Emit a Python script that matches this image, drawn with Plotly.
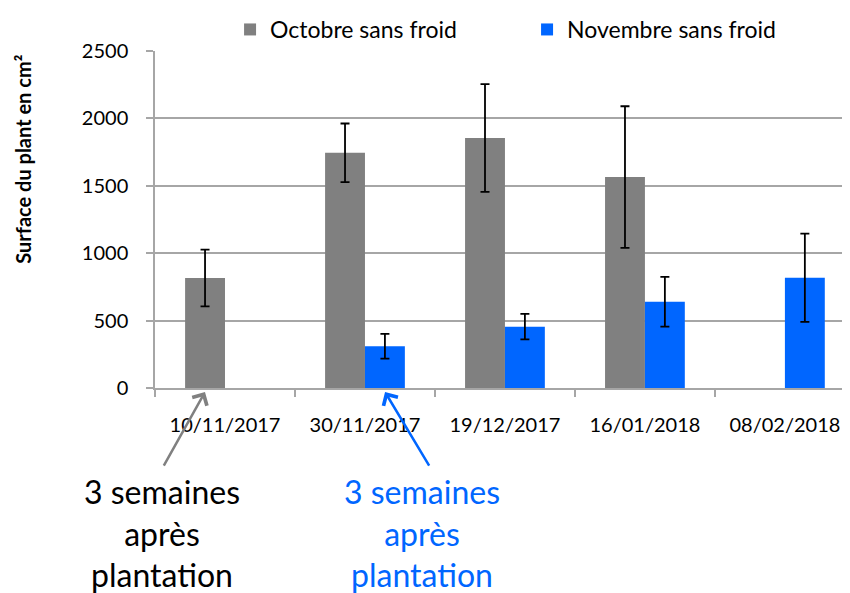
import plotly.graph_objects as go

categories = ["10/11/2017", "30/11/2017", "19/12/2017", "16/01/2018", "08/02/2018"]
octobre = [816, 1745, 1855, 1565, None]
octobre_err = [210, 217, 400, 525, None]
novembre = [None, 310, 455, 640, 818]
novembre_err = [None, 92, 95, 184, 327]
y_ticks = [0, 500, 1000, 1500, 2000, 2500]

GRAY = "#808080"
BLUE = "#0066FF"
GRID = "#A6A6A6"
FONT = "Lato"

fig = go.Figure()
fig.add_trace(go.Bar(
    x=categories, y=octobre, name="Octobre sans froid",
    marker=dict(color=GRAY, line=dict(width=0)),
    error_y=dict(type="data", array=octobre_err, color="black", thickness=1.8, width=4.5),
))
fig.add_trace(go.Bar(
    x=categories, y=novembre, name="Novembre sans froid",
    marker=dict(color=BLUE, line=dict(width=0)),
    error_y=dict(type="data", array=novembre_err, color="black", thickness=1.8, width=4.5),
))

fig.update_layout(
    width=842, height=585,
    margin=dict(l=147, r=0, t=38, b=205),
    paper_bgcolor="white", plot_bgcolor="white",
    barmode="group", bargap=0.43, bargroupgap=0,
    font=dict(family=FONT, color="black", size=20),
    legend=dict(orientation="h", x=0.108, xanchor="left", y=1.0, yanchor="bottom",
                font=dict(size=23, family=FONT), itemwidth=30, traceorder="normal",
                entrywidth=252, entrywidthmode="pixels"),
    xaxis=dict(type="category", range=[-0.5, 4.465], showline=True, linecolor=GRID,
               linewidth=1.5, ticks="outside", tickson="boundaries", ticklen=7,
               tickcolor=GRID, tickwidth=1.5, showgrid=False, ticklabelstandoff=18,
               tickfont=dict(size=20, family=FONT)),
    yaxis=dict(range=[0, 2500], tickvals=y_ticks, showline=True, linecolor=GRID,
               linewidth=1.5, ticks="outside", ticklen=7, tickcolor=GRID, tickwidth=1.5,
               showgrid=True, gridcolor=GRID, gridwidth=1.5, zeroline=False,
               ticklabelstandoff=14, tickfont=dict(size=20, family=FONT)),
)

# y axis title
fig.add_annotation(x=-0.19, y=0.68, xref="paper", yref="paper", textangle=-90,
                   text="<b>Surface du plant en cm²</b>", showarrow=False,
                   font=dict(size=20, family=FONT, color="black"),
                   xanchor="center", yanchor="middle")

# arrows
fig.add_annotation(x=0.0719, y=-0.012, xref="paper", yref="paper", ax=-42, ay=75,
                   axref="pixel", ayref="pixel", text="", showarrow=True, arrowhead=4,
                   arrowsize=1.3, arrowwidth=2.5, arrowcolor=GRAY)
fig.add_annotation(x=0.331, y=-0.012, xref="paper", yref="paper", ax=45, ay=75,
                   axref="pixel", ayref="pixel", text="", showarrow=True, arrowhead=4,
                   arrowsize=1.3, arrowwidth=2.5, arrowcolor=BLUE)

# texts
fig.add_annotation(x=0.01, y=-0.43, xref="paper", yref="paper",
                   text="3 semaines<br>après<br>plantation", showarrow=False,
                   font=dict(size=32, color="black", family=FONT), align="center",
                   xanchor="center", yanchor="middle")
fig.add_annotation(x=0.384, y=-0.43, xref="paper", yref="paper",
                   text="3 semaines<br>après<br>plantation", showarrow=False,
                   font=dict(size=32, color=BLUE, family=FONT), align="center",
                   xanchor="center", yanchor="middle")

fig.write_html("out.html")
